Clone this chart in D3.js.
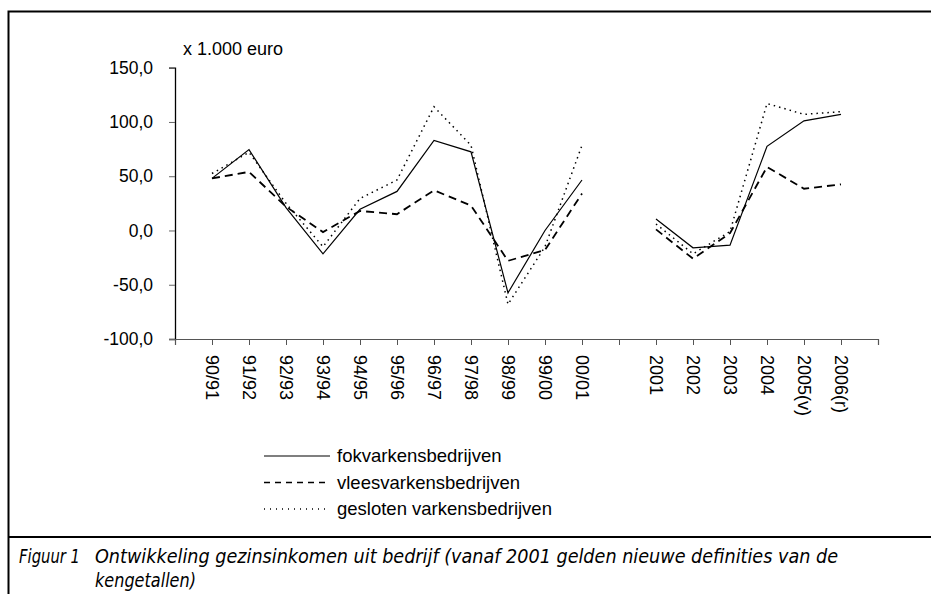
<!DOCTYPE html>
<html>
<head>
<meta charset="utf-8">
<script src="https://cdn.jsdelivr.net/npm/d3@7"></script>
<style>
  body { margin: 0; background: #fff; }
  text { font-family: "Liberation Sans", Arial, sans-serif; fill: #000; }
</style>
</head>
<body>
<script>
// categories (blank slots are separate keys, shown without label)
var categories = ["gap0", "90/91", "91/92", "92/93", "93/94", "94/95", "95/96", "96/97", "97/98", "98/99", "99/00", "00/01",
                  "gap1", "2001", "2002", "2003", "2004", "2005(v)", "2006(r)", "gap2"];
var periodsOld = ["90/91", "91/92", "92/93", "93/94", "94/95", "95/96", "96/97", "97/98", "98/99", "99/00", "00/01"];
var periodsNew = ["2001", "2002", "2003", "2004", "2005(v)", "2006(r)"];

// x 1.000 euro
var fokOld = [48, 74.5, 21, -21.5, 19.5, 36, 83, 72.5, -57.5, 0, 46.5];
var fokNew = [10.5, -16, -13.5, 77.5, 101, 107];
var vleesOld = [48, 54, 22, -1.5, 18, 15, 37, 23, -28, -18, 34];
var vleesNew = [1, -26, -2.5, 58.5, 38.5, 42.5];
var geslotenOld = [52.5, 72, 25, -15, 29.5, 46.5, 114, 78.5, -68, -15, 78.5];
var geslotenNew = [6, -21.5, -1, 117, 107, 109.5];

var yTicks = [-100, -50, 0, 50, 100, 150];

var width = 931, height = 594;

var svg = d3.select("body").append("svg")
    .attr("width", width)
    .attr("height", height)
    .style("display", "block");

svg.append("rect").attr("width", width).attr("height", height).attr("fill", "#fff");

// frame
svg.append("path")
    .attr("d", "M8.5," + height + " V11.5 H" + width)
    .attr("fill", "none")
    .attr("stroke", "#000")
    .attr("stroke-width", 2);

var x = d3.scalePoint().domain(categories).range([175, 878]);
var y = d3.scaleLinear().domain([-100, 150]).range([339, 67.7]);

// y axis
var yAxis = svg.append("g")
    .attr("transform", "translate(175,0)")
    .call(d3.axisLeft(y).tickValues(yTicks).tickSize(6).tickPadding(16)
        .tickFormat(function (d) { return d.toFixed(1).replace(".", ","); }));
yAxis.select(".domain").attr("stroke", "#000").attr("stroke-width", 1.3);
yAxis.selectAll(".tick line").attr("stroke", "#666");
yAxis.selectAll("text").style("font-size", "17.5px").attr("fill", "#000");

// x axis
var xAxis = svg.append("g")
    .attr("transform", "translate(0,339)")
    .call(d3.axisBottom(x).tickSize(6).tickPadding(0)
        .tickFormat(function (d) { return d.indexOf("gap") === 0 ? "" : d; }));
xAxis.select(".domain").attr("stroke", "#555").attr("stroke-width", 1.2);
xAxis.selectAll(".tick line").attr("stroke", "#555");
xAxis.selectAll(".tick text")
    .style("font-size", "18px")
    .attr("fill", "#000")
    .attr("transform", "rotate(90)")
    .attr("x", 16)
    .attr("y", 0)
    .attr("dy", "0.35em")
    .attr("text-anchor", "start");

svg.append("text")
    .attr("x", 183)
    .attr("y", 55)
    .style("font-size", "18px")
    .text("x 1.000 euro");

var series = [
    { name: "fokvarkensbedrijven", parts: [fokOld, fokNew], dash: null, w: 1.2 },
    { name: "vleesvarkensbedrijven", parts: [vleesOld, vleesNew], dash: "8,5", w: 1.8 },
    { name: "gesloten varkensbedrijven", parts: [geslotenOld, geslotenNew], dash: "1.5,4", w: 1.5 }
];

var line = d3.line()
    .x(function (d) { return x(d.c); })
    .y(function (d) { return y(d.v); });

series.forEach(function (s) {
    [periodsOld, periodsNew].forEach(function (cats, i) {
        var pts = cats.map(function (c, j) { return { c: c, v: s.parts[i][j] }; });
        svg.append("path")
            .attr("d", line(pts))
            .attr("fill", "none")
            .attr("stroke", "#000")
            .attr("stroke-width", s.w)
            .attr("stroke-dasharray", s.dash);
    });
});

// legend
var legend = svg.append("g");
series.forEach(function (s, i) {
    var ly = 456 + i * 26.5;
    legend.append("line")
        .attr("x1", 264).attr("x2", 330)
        .attr("y1", ly).attr("y2", ly)
        .attr("stroke", "#000")
        .attr("stroke-width", s.dash ? 1.3 : 1.2)
        .attr("stroke-dasharray", s.dash ? (s.dash === "8,5" ? "6,5" : "1,5") : null);
    legend.append("text")
        .attr("x", 337)
        .attr("y", ly)
        .attr("dy", "0.35em")
        .style("font-size", "18.5px")
        .text(s.name);
});

// caption
svg.append("line")
    .attr("x1", 8).attr("x2", width)
    .attr("y1", 537).attr("y2", 537)
    .attr("stroke", "#000")
    .attr("stroke-width", 2);

var capStyle = function (t) {
    t.style("font-family", "'Liberation Sans Narrow', 'DejaVu Sans Condensed', sans-serif")
     .style("font-style", "italic")
     .style("font-size", "20px");
};
svg.append("text").attr("x", 19).attr("y", 563).call(capStyle)
    .attr("textLength", 61).attr("lengthAdjust", "spacingAndGlyphs")
    .text("Figuur 1");
svg.append("text").attr("x", 95).attr("y", 563).call(capStyle)
    .attr("textLength", 743).attr("lengthAdjust", "spacingAndGlyphs")
    .text("Ontwikkeling gezinsinkomen uit bedrijf (vanaf 2001 gelden nieuwe definities van de");
svg.append("text").attr("x", 95).attr("y", 587).call(capStyle)
    .attr("textLength", 101).attr("lengthAdjust", "spacingAndGlyphs")
    .text("kengetallen)");
</script>
</body>
</html>
